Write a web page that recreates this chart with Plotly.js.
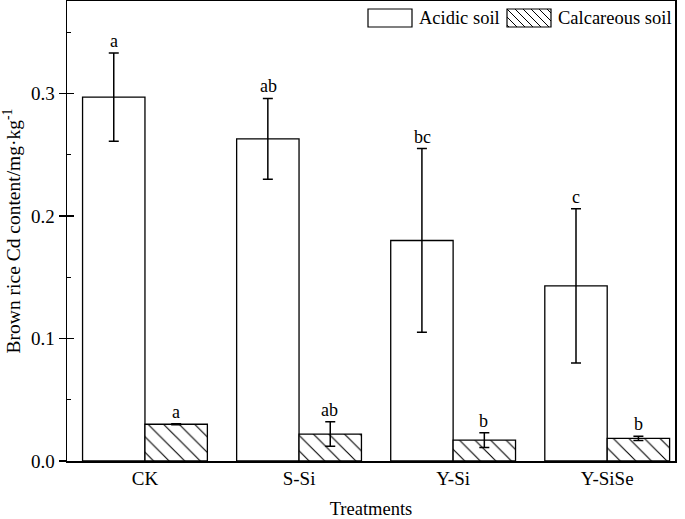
<!DOCTYPE html>
<html>
<head>
<meta charset="utf-8">
<script src="https://cdn.plot.ly/plotly-3.0.1.min.js"></script>
<style>html,body{margin:0;padding:0;background:#fff;}#chart{width:685px;height:519px;}</style>
</head>
<body>
<div id="chart"></div>
<script>
// ---- data ----
const treatments = ["CK", "S-Si", "Y-Si", "Y-SiSe"];
const acidic = [0.297, 0.263, 0.180, 0.143];
const acidicErr = [0.036, 0.033, 0.075, 0.063];
const acidicLetters = ["a", "ab", "bc", "c"];
const calcareous = [0.030, 0.022, 0.017, 0.0185];
const calcareousErr = [0.0005, 0.010, 0.006, 0.0018];
const calcareousLetters = ["a", "ab", "b", "b"];
const seriesNames = ["Acidic soil", "Calcareous soil"];

const FONT = "Liberation Serif, Times New Roman, serif";
const W = 685, H = 519;
const M = {l: 67, r: 10, t: 1, b: 58};
const PW = W - M.l - M.r, PH = H - M.t - M.b;
const px2x = p => (p - M.l) / PW;
const px2y = p => (H - M.b - p) / PH;

const errStyle = {type: "data", visible: true, color: "#000", thickness: 1.5, width: 5};

const traces = [
  {
    type: "bar", name: seriesNames[0], x: treatments, y: acidic,
    error_y: Object.assign({array: acidicErr}, errStyle),
    marker: {color: "#fff", line: {color: "#000", width: 1.3}},
    showlegend: false
  },
  {
    type: "bar", name: seriesNames[1], x: treatments, y: calcareous,
    error_y: Object.assign({array: calcareousErr}, errStyle),
    marker: {color: "#fff", line: {color: "#000", width: 1.3},
      pattern: {shape: "\\", fgcolor: "#000", bgcolor: "#fff", size: 11, solidity: 0.1}},
    showlegend: false
  },
  // invisible trace to enable overlay axis for inside ticks
  {type: "scatter", x: [treatments[0]], y: [0], yaxis: "y2", mode: "markers",
   marker: {opacity: 0}, showlegend: false, hoverinfo: "skip"}
];

const annotations = [];
treatments.forEach((t, i) => {
  annotations.push({x: i - 0.2, y: acidic[i] + acidicErr[i], xref: "x", yref: "y",
    text: acidicLetters[i], showarrow: false, yanchor: "bottom", yshift: 0,
    font: {family: FONT, size: 18, color: "#000"}});
  annotations.push({x: i + 0.2, y: calcareous[i] + calcareousErr[i], xref: "x", yref: "y",
    text: calcareousLetters[i], showarrow: false, yanchor: "bottom", yshift: 0,
    font: {family: FONT, size: 18, color: "#000"}});
});

// custom legend
const shapes = [];
const leg = [
  {bx0: 368, bx1: 412, label: seriesNames[0], tx: 417, hatch: false},
  {bx0: 507, bx1: 551, label: seriesNames[1], tx: 556, hatch: true}
];
const by0 = 9, by1 = 27;
leg.forEach(L => {
  shapes.push({type: "rect", xref: "paper", yref: "paper",
    x0: px2x(L.bx0), x1: px2x(L.bx1), y0: px2y(by1), y1: px2y(by0),
    line: {color: "#000", width: 1.2}, fillcolor: "#fff"});
  if (L.hatch) {
    const h = by1 - by0, step = 8;
    for (let s = L.bx0 - h + 2; s < L.bx1; s += step) {
      const xa = Math.max(s, L.bx0), xb = Math.min(s + h, L.bx1);
      if (xb <= xa) continue;
      shapes.push({type: "line", xref: "paper", yref: "paper",
        x0: px2x(xa), y0: px2y(by0 + (xa - s)), x1: px2x(xb), y1: px2y(by0 + (xb - s)),
        line: {color: "#000", width: 1}});
    }
  }
  annotations.push({xref: "paper", yref: "paper", x: px2x(L.tx), y: px2y((by0 + by1) / 2),
    xanchor: "left", yanchor: "middle", showarrow: false, text: L.label,
    font: {family: FONT, size: 18.5, color: "#000"}});
});

const layout = {
  width: W, height: H,
  margin: M,
  paper_bgcolor: "#fff", plot_bgcolor: "#fff",
  font: {family: FONT, size: 19, color: "#000"},
  barmode: "group", bargap: 0.19, bargroupgap: 0,
  xaxis: {
    range: [-0.506, 3.44], showline: true, linecolor: "#000", linewidth: 1.5,
    mirror: true, ticks: "", showgrid: false, zeroline: false,
    tickfont: {family: FONT, size: 19},
    title: {text: "Treatments", font: {family: FONT, size: 18.5}, standoff: 18}
  },
  yaxis: {
    range: [0, 0.3755], dtick: 0.1, tickformat: ".1f",
    showline: true, linecolor: "#000", linewidth: 1.5, mirror: true,
    ticks: "outside", ticklen: 7, tickwidth: 1.3, tickcolor: "#000",
    showgrid: false, zeroline: false,
    tickfont: {family: FONT, size: 19},
    title: {text: "Brown rice Cd content/mg·kg<sup>-1</sup>", font: {family: FONT, size: 19.5}, standoff: 6}
  },
  yaxis2: {
    overlaying: "y", side: "left", range: [0, 0.3755], dtick: 0.1,
    showticklabels: false, ticks: "inside", ticklen: 7, tickwidth: 1.3, tickcolor: "#000",
    minor: {dtick: 0.05, ticks: "inside", ticklen: 4, tickwidth: 1.3, tickcolor: "#000"},
    showgrid: false, zeroline: false, showline: false
  },
  annotations: annotations,
  shapes: shapes
};

Plotly.newPlot("chart", traces, layout, {displayModeBar: false, staticPlot: true});
</script>
</body>
</html>
